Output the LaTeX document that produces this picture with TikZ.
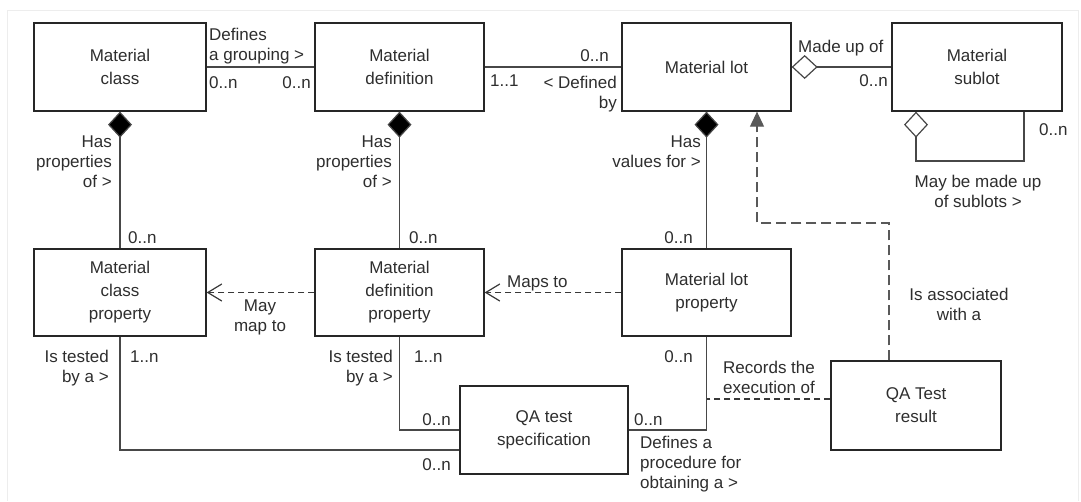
\documentclass[tikz,border=0pt]{standalone}
\usepackage{fontspec}
\setmainfont{Liberation Sans}
\usetikzlibrary{arrows.meta,calc}
\begin{document}
\begin{tikzpicture}[x=1pt,y=-1pt,
  cls/.style={draw=black!85,line width=1.3pt,fill=white,minimum width=#1,
    minimum height=88pt,inner sep=0pt,align=center,
    font=\fontsize{17}{23}\selectfont,text=black!82},
  assoc/.style={draw=black!72,line width=1.2pt},
  dsh/.style={draw=black!78,line width=1.2pt,dash pattern=on 6pt off 4pt},
  ldsh/.style={draw=black!65,line width=1.1pt,dash pattern=on 10pt off 5pt},
  fdia/.style={arrows={{Diamond[length=26pt,width=24pt,fill=black]}-}},
  odia/.style={arrows={{Diamond[open,length=26pt,width=24pt]}-}},
  barb/.style={arrows={-{Straight Barb[length=14pt,width=17pt,line width=1.2pt]}}},
  lbl/.style={font=\fontsize{17}{20}\selectfont,text=black!82,inner sep=0pt},
]
\useasboundingbox (0,0) rectangle (1081,501);
\fill[white] (0,0) rectangle (1081,501);
% faint outer frame
\draw[black!7,line width=0.8pt] (7,501) -- (7,10) -- (1078,10) -- (1078,501);

% classes
\node[cls=172pt] (mc)  at (120,67)    {Material\\class};
\node[cls=169pt] (md)  at (399.5,67)  {Material\\definition};
\node[cls=169pt] (ml)  at (706.5,67)  {Material lot};
\node[cls=170pt] (ms)  at (977,67)    {Material\\sublot};
\node[cls=172pt,minimum height=87pt] (mcp) at (120,292.5)   {Material\\class\\property};
\node[cls=169pt,minimum height=87pt] (mdp) at (399.5,292.5) {Material\\definition\\property};
\node[cls=169pt,minimum height=87pt] (mlp) at (706.5,292.5) {Material lot\\property};
\node[cls=168pt] (qas) at (544,430)   {QA test\\specification};
\node[cls=170pt,minimum height=89pt] (qar) at (916,405.5) {QA Test\\result};

% associations along the top row
\draw[assoc] (mc) -- (md);
\draw[assoc] (md) -- (ml);
\draw[assoc,odia] (ml) -- (ms);

% compositions to the property classes
\draw[assoc,fdia] (mc) -- (mcp);
\draw[assoc,fdia] (md) -- (mdp);
\draw[assoc,fdia] (ml) -- (mlp);

% mappings between properties
\draw[dsh,barb] (mdp) -- (mcp);
\draw[dsh,barb] (mlp) -- (mdp);

% test specification links
\draw[assoc] (mcp.south) |- ([yshift=-20pt]qas.west);
\draw[assoc] (mdp.south) |- (qas.west);
\draw[assoc] (mlp.south) |- (qas.east);

% test result links
\coordinate (rx) at (707,399);
\draw[dsh] (qar.west |- rx) -- (rx);
\coordinate (bend) at (757,223);
\draw[ldsh,-{Triangle[length=15pt,width=14pt]}] (qar.north -| 889,0) |- (bend) -- (ml.south -| bend);

% sublot self association
\coordinate (lp) at (1024,161);
\draw[assoc,odia] (ms.south -| 916,0) |- (lp) -- (ms.south -| lp);

% labels
\node[lbl,anchor=north west,align=left] (l1) at (209,27.6) {Defines\\a grouping >};
\node[lbl,anchor=base west] (l2) at (209,88) {0..n};
\node[lbl,anchor=base east] (l3) at (311,88) {0..n};
\node[lbl,anchor=base west] (l4) at (490,86) {1..1};
\node[lbl,anchor=base east] (l5) at (609,61) {0..n};
\node[lbl,anchor=north east,align=right] (l6) at (617,75.6) {< Defined\\by};
\node[lbl,anchor=base west] (l7) at (798,52) {Made up of};
\node[lbl,anchor=base east] (l8) at (888,86) {0..n};
\node[lbl,anchor=base west] (l9) at (1039,135) {0..n};
\node[lbl,anchor=north,align=center] (l10) at (978,174.6) {May be made up\\of sublots >};
\node[lbl,anchor=north east,align=right] (l11) at (112,135.6) {Has\\properties\\of >};
\node[lbl,anchor=north east,align=right] (l12) at (392,135.6) {Has\\properties\\of >};
\node[lbl,anchor=north east,align=right] (l13) at (701,135.6) {Has\\values for >};
\node[lbl,anchor=base west] (l14) at (128,243) {0..n};
\node[lbl,anchor=base west] (l15) at (409,243) {0..n};
\node[lbl,anchor=base east] (l16) at (693,243) {0..n};
\node[lbl,anchor=north,align=center] (l17) at (260,299.6) {May\\map to};
\node[lbl,anchor=base west] (l18) at (507,287) {Maps to};
\node[lbl,anchor=north east,align=right] (l19) at (109,349.6) {Is tested\\by a >};
\node[lbl,anchor=base west] (l20) at (130,362) {1..n};
\node[lbl,anchor=north east,align=right] (l21) at (393,349.6) {Is tested\\by a >};
\node[lbl,anchor=base west] (l22) at (414,362) {1..n};
\node[lbl,anchor=base east] (l23) at (451,425) {0..n};
\node[lbl,anchor=base east] (l24) at (451,470) {0..n};
\node[lbl,anchor=base west] (l25) at (634,425) {0..n};
\node[lbl,anchor=base east] (l26) at (693,362) {0..n};
\node[lbl,anchor=north west,align=left] (l27) at (640,435.6) {Defines a\\procedure for\\obtaining a >};
\node[lbl,anchor=north west,align=left] (l28) at (723,360.6) {Records the\\execution of};
\node[lbl,anchor=north,align=center] (l29) at (959,287.6) {Is associated\\with a};
\end{tikzpicture}
\end{document}
